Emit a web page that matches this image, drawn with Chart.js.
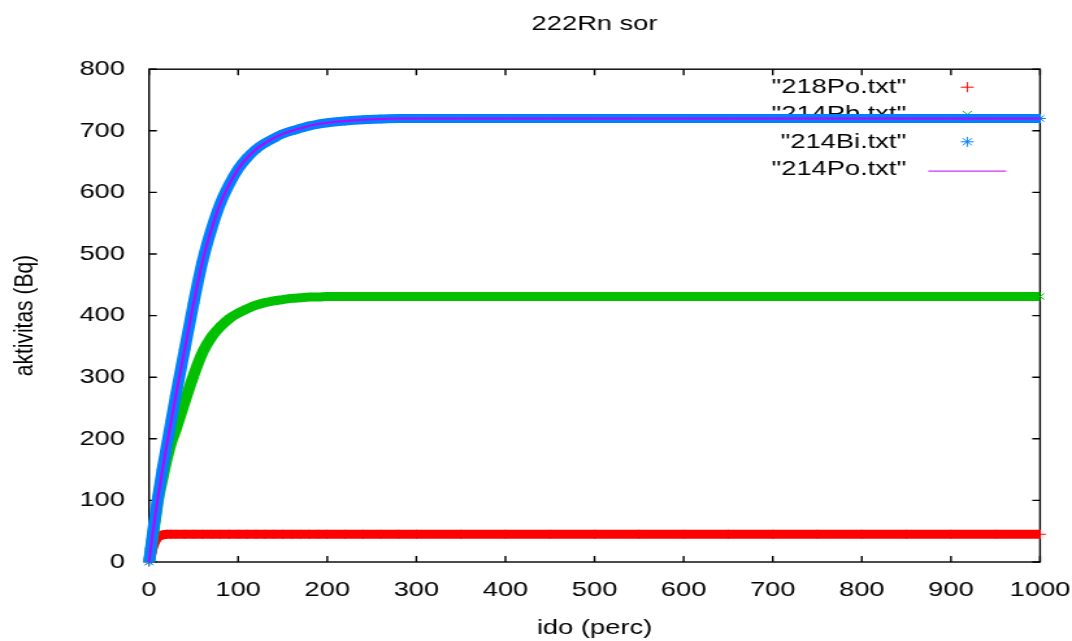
<!DOCTYPE html>
<html>
<head>
<meta charset="utf-8">
<title>222Rn sor</title>
<script src="https://cdn.jsdelivr.net/npm/chart.js@4.4.0/dist/chart.umd.min.js"></script>
<style>
    html, body { margin: 0; padding: 0; background: #fff; }
    canvas { display: block; }
</style>
</head>
<body>
<!-- drawn narrow and stretched sideways, like the gnuplot picture -->
<canvas id="radonChart" width="825" height="641" style="width:1072px;height:641px"></canvas>
<script>
// ido (perc)
const times = [0, 2, 4, 6, 8, 10, 15, 20, 25, 30, 40, 50, 60, 70, 80, 90, 100, 110, 120, 130,
    140, 150, 160, 170, 180, 190, 200, 220, 240, 260, 280, 300, 350, 400, 450, 500, 550, 600,
    650, 700, 750, 800, 850, 900, 950, 1000];

// aktivitas (Bq)
const po218 = [0, 15, 26, 33, 38, 41, 44, 45, 45, 45, 45, 45, 45, 45, 45, 45, 45, 45, 45, 45,
    45, 45, 45, 45, 45, 45, 45, 45, 45, 45, 45, 45, 45, 45, 45, 45, 45, 45,
    45, 45, 45, 45, 45, 45, 45, 45];
const pb214 = [0, 20, 40, 60, 80, 100, 135, 168, 195, 215, 260, 303, 340, 365, 382, 395, 404, 411, 417, 421,
    424, 426, 428, 429, 430, 430, 431, 431, 431, 431, 431, 431, 431, 431, 431, 431, 431, 431,
    431, 431, 431, 431, 431, 431, 431, 431];
const bi214 = [0, 22, 45, 66, 86, 105, 150, 190, 230, 270, 345, 420, 488, 540, 582, 613, 638, 656, 670, 680,
    688, 695, 700, 704, 708, 711, 713, 716, 718, 719, 720, 720, 720, 720, 720, 720, 720, 720,
    720, 720, 720, 720, 720, 720, 720, 720];
const po214 = [0, 22, 45, 66, 86, 105, 150, 190, 230, 270, 345, 420, 488, 540, 582, 613, 638, 656, 670, 680,
    688, 695, 700, 704, 708, 711, 713, 716, 718, 719, 720, 720, 720, 720, 720, 720, 720, 720,
    720, 720, 720, 720, 720, 720, 720, 720];

const seriesNames = ['"218Po.txt"', '"214Pb.txt"', '"214Bi.txt"', '"214Po.txt"'];
const seriesColors = ['#ff0000', '#00c000', '#0080ff', '#c000ff'];
const xTicks = [0, 100, 200, 300, 400, 500, 600, 700, 800, 900, 1000];
const yTicks = [0, 100, 200, 300, 400, 500, 600, 700, 800];

const FONT = { family: '"Liberation Sans", Arial, sans-serif', size: 21, weight: 'normal' };

function points(values) {
    return times.map((t, i) => ({ x: t, y: values[i] }));
}

// gnuplot style frame with inward ticks and the key, under the data
const frameAndKey = {
    id: 'frameAndKey',
    beforeDatasetsDraw(chart) {
        const { ctx, chartArea: a, scales: { x, y } } = chart;
        ctx.save();
        ctx.strokeStyle = '#000';
        ctx.lineWidth = 1.4;
        ctx.strokeRect(a.left, a.top, a.right - a.left, a.bottom - a.top);
        ctx.beginPath();
        xTicks.forEach(v => {
            const px = x.getPixelForValue(v);
            ctx.moveTo(px, a.bottom); ctx.lineTo(px, a.bottom - 6);
            ctx.moveTo(px, a.top); ctx.lineTo(px, a.top + 6);
        });
        yTicks.forEach(v => {
            const py = y.getPixelForValue(v);
            ctx.moveTo(a.left, py); ctx.lineTo(a.left + 6, py);
            ctx.moveTo(a.right, py); ctx.lineTo(a.right - 6, py);
        });
        ctx.stroke();

        // key
        ctx.font = '21px "Liberation Sans", Arial, sans-serif';
        ctx.fillStyle = '#000';
        ctx.textAlign = 'right';
        ctx.textBaseline = 'middle';
        const styles = ['cross', 'crossRot', 'star', null];
        seriesNames.forEach((name, i) => {
            const ky = a.top + 18 + i * 27.3;
            ctx.fillText(name, a.right - 103, ky);
            ctx.strokeStyle = seriesColors[i];
            ctx.lineWidth = 1;
            if (styles[i]) {
                Chart.helpers.drawPoint(ctx, { pointStyle: styles[i], radius: 5, borderWidth: 1, rotation: 0 }, a.right - 56, ky);
            } else {
                ctx.beginPath();
                ctx.moveTo(a.right - 86, ky + 2);
                ctx.lineTo(a.right - 26, ky + 2);
                ctx.stroke();
            }
        });
        ctx.restore();
    }
};

function bandSeries(i, values, style, width, order) {
    return {
        label: seriesNames[i],
        data: points(values),
        borderColor: seriesColors[i],
        backgroundColor: seriesColors[i],
        borderWidth: width,
        pointStyle: style,
        pointRadius: style ? 4.5 : 0,
        pointBorderWidth: 1,
        pointBorderColor: seriesColors[i],
        cubicInterpolationMode: 'monotone',
        clip: false,
        order: order
    };
}

new Chart(document.getElementById('radonChart').getContext('2d'), {
    type: 'line',
    data: {
        datasets: [
            bandSeries(0, po218, 'cross', 9, 4),
            bandSeries(1, pb214, 'crossRot', 9, 3),
            bandSeries(2, bi214, 'star', 9, 2),
            bandSeries(3, po214, false, 2, 1)
        ]
    },
    options: {
        responsive: false,
        devicePixelRatio: 1,
        animation: false,
        events: [],
        layout: { padding: { top: 0, right: 24.6, bottom: 0, left: 0 } },
        plugins: {
            legend: { display: false },
            tooltip: { enabled: false },
            title: {
                display: true,
                text: '222Rn sor',
                fullSize: false,
                color: '#000',
                font: FONT,
                padding: { top: 12, bottom: 32 }
            }
        },
        scales: {
            x: {
                type: 'linear',
                min: 0,
                max: 1000,
                afterFit(scale) { scale.height = 79; },
                afterBuildTicks(scale) { scale.ticks = xTicks.map(v => ({ value: v })); },
                ticks: {
                    color: '#000', font: FONT, padding: 0, maxRotation: 0, autoSkip: false,
                    callback: value => String(value)
                },
                // grid lines are not drawn, the tick length only spaces the labels
                grid: { display: false, drawTicks: true, tickLength: 16 },
                border: { display: false },
                title: { display: true, text: 'ido (perc)', color: '#000', font: FONT, padding: { top: 0, bottom: 0 } }
            },
            y: {
                type: 'linear',
                min: 0,
                max: 800,
                afterFit(scale) { scale.width = 114.7; },
                afterBuildTicks(scale) { scale.ticks = yTicks.map(v => ({ value: v })); },
                ticks: {
                    color: '#000', font: FONT, padding: 18.5, autoSkip: false,
                    callback: value => String(value)
                },
                grid: { display: false, drawTicks: false },
                border: { display: false },
                title: { display: true, text: 'aktivitas (Bq)', color: '#000', font: FONT, padding: { top: 7, bottom: 0 } }
            }
        }
    },
    plugins: [frameAndKey]
});
</script>
</body>
</html>
